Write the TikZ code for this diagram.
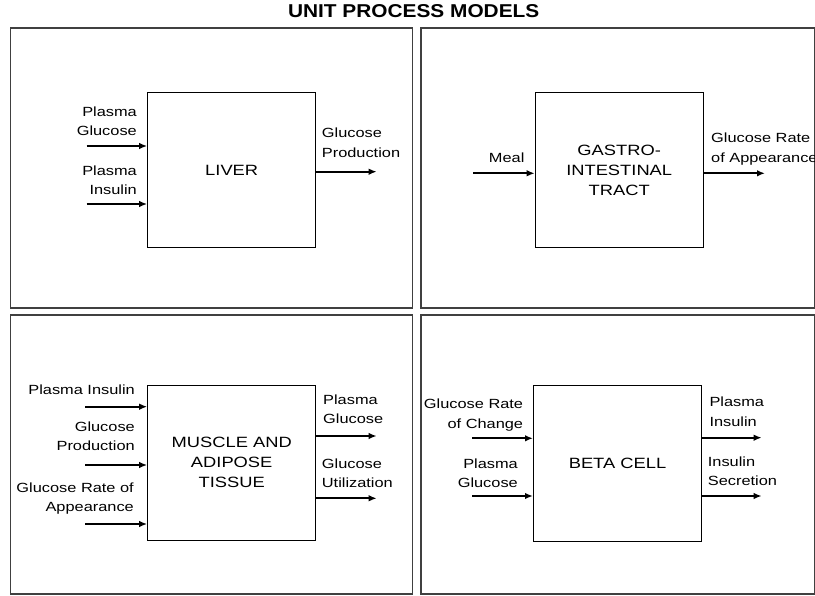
\documentclass[tikz,border=0pt]{standalone}
\usepackage{fontspec}
\setmainfont{Liberation Sans}
\newfontfamily\lblfont{Liberation Sans}[FakeStretch=1.23]
\newfontfamily\ttlfont{Liberation Sans}[FakeStretch=1.12]
\usetikzlibrary{arrows.meta}
\definecolor{framegray}{HTML}{404040}
\tikzset{
  frame/.style={draw=framegray, line width=1.2pt},
  unitbox/.style={draw=black, line width=1pt, minimum width=168pt, minimum height=155.5pt, inner sep=0pt, align=center, font=\lblfont\fontsize{14.9}{20}\selectfont},
  lbl/.style={inner sep=0pt, font=\lblfont\fontsize{13.3}{19.5}\selectfont},
  lblr/.style={lbl, anchor=east, align=right},
  lbll/.style={lbl, anchor=west, align=left},
  lblc/.style={lbl, align=center},
  flow/.style={line width=1.7pt, -{Latex[length=8pt,width=6.5pt]}},
}
\begin{document}
\begin{tikzpicture}[x=1pt,y=-1pt]
\useasboundingbox (0,0) rectangle (815,596);
% title
\node[font=\ttlfont\bfseries\fontsize{18.6}{22}\selectfont, inner sep=0pt] (title) at (413.7,11) {UNIT PROCESS MODELS};
% frames
\draw[frame] (10.7,28) rectangle (412.7,308);
\draw[frame] (421,28) rectangle (814.3,308);
\draw[frame] (10.7,315) rectangle (412.7,594);
\draw[frame] (421,315) rectangle (814.3,594);

% ---- LIVER
\node[unitbox] (liver) at (231.7,170) {LIVER};
\coordinate (lin1) at (86.7,146);
\coordinate (lin2) at (86.7,204);
\coordinate (lout1) at (376.7,171.7);
\draw[flow] (lin1) -- (lin1 -| liver.west);
\draw[flow] (lin2) -- (lin2 -| liver.west);
\draw[flow] (lout1 -| liver.east) -- (lout1);
\node[lblr] (lpg) at (137,121) {Plasma\\Glucose};
\node[lblr] (lpi) at (137,180) {Plasma\\Insulin};
\node[lbll] (lgp) at (321.7,142.5) {Glucose\\Production};

% ---- GI TRACT
\node[unitbox] (gi) at (619.2,170) {GASTRO-\\INTESTINAL\\TRACT};
\coordinate (gin1) at (473.3,173.3);
\coordinate (gout1) at (765,173.3);
\draw[flow] (gin1) -- (gin1 -| gi.west);
\draw[flow] (gout1 -| gi.east) -- (gout1);
\node[lblc] (meal) at (506.7,157.7) {Meal};
\node[lbll] (gra) at (711,149) {Glucose Rate\\of Appearance};

% ---- MUSCLE AND ADIPOSE TISSUE
\node[unitbox] (muscle) at (231.7,462.8) {MUSCLE AND\\ADIPOSE\\TISSUE};
\coordinate (min1) at (85,406.7);
\coordinate (min2) at (85,465);
\coordinate (min3) at (85,524);
\coordinate (mout1) at (376.7,436);
\coordinate (mout2) at (376.7,498.3);
\draw[flow] (min1) -- (min1 -| muscle.west);
\draw[flow] (min2) -- (min2 -| muscle.west);
\draw[flow] (min3) -- (min3 -| muscle.west);
\draw[flow] (mout1 -| muscle.east) -- (mout1);
\draw[flow] (mout2 -| muscle.east) -- (mout2);
\node[lblr] (mpi) at (135,390) {Plasma Insulin};
\node[lblr] (mgp) at (135,436.2) {Glucose\\Production};
\node[lblr] (mgra) at (134,498.7) {Glucose Rate of\\Appearance};
\node[lbll] (mpg) at (323,409) {Plasma\\Glucose};
\node[lbll] (mgu) at (321.7,473) {Glucose\\Utilization};

% ---- BETA CELL
\node[unitbox] (beta) at (617.5,463.7) {BETA CELL};
\coordinate (bin1) at (472.3,438.3);
\coordinate (bin2) at (472.3,496);
\coordinate (bout1) at (761.7,437.7);
\coordinate (bout2) at (761.7,496);
\draw[flow] (bin1) -- (bin1 -| beta.west);
\draw[flow] (bin2) -- (bin2 -| beta.west);
\draw[flow] (bout1 -| beta.east) -- (bout1);
\draw[flow] (bout2 -| beta.east) -- (bout2);
\node[lblr] (bgrc) at (523.3,415) {Glucose Rate\\of Change};
\node[lblr] (bpg) at (518,473) {Plasma\\Glucose};
\node[lbll] (bpi) at (709.3,411.7) {Plasma\\Insulin};
\node[lbll] (bis) at (707.7,471) {Insulin\\Secretion};
\end{tikzpicture}
\end{document}
